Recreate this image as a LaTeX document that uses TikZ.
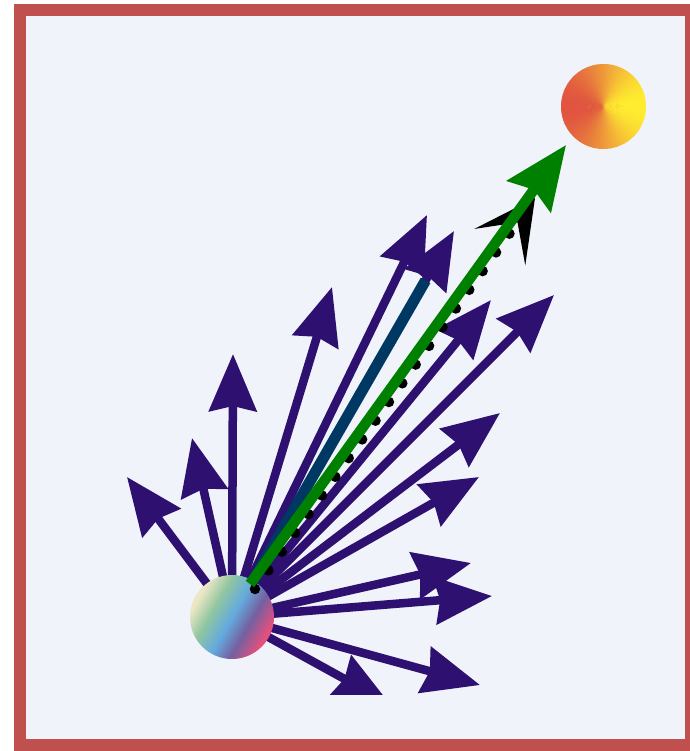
\documentclass[tikz,border=0pt]{standalone}
\usetikzlibrary{arrows.meta,calc}
\definecolor{framered}{RGB}{192,80,77}
\definecolor{bgblue}{RGB}{240,243,249}
\definecolor{vecpurple}{RGB}{46,16,112}
\definecolor{navyv}{RGB}{0,56,100}
\definecolor{greenv}{RGB}{0,128,0}
\definecolor{bA}{RGB}{236,230,196}
\definecolor{bB}{RGB}{144,198,160}
\definecolor{bC}{RGB}{100,170,222}
\definecolor{bD}{RGB}{116,96,160}
\definecolor{bE}{RGB}{228,80,124}
\definecolor{rdC}{RGB}{224,84,64}
\definecolor{orC}{RGB}{238,152,58}
\definecolor{yeC}{RGB}{255,236,48}
\pgfdeclarehorizontalshading{ballone}{100bp}{color(0bp)=(bA); color(27bp)=(bA); color(38bp)=(bB); color(50bp)=(bC); color(61bp)=(bD); color(73bp)=(bE); color(100bp)=(bE)}
\begin{document}
\begin{tikzpicture}[x=1pt,y=-1pt,
  parrow/.style={draw=vecpurple, line width=8.5pt, -{Stealth[length=57pt,width=47pt,inset=5pt]}},
  navyline/.style={draw=navyv, line width=11pt},
  dotarrow/.style={draw=black, line width=10.5pt, line cap=round, dash pattern=on 0pt off 23pt, -{Stealth[length=60pt,width=62pt,inset=30pt]}},
  greenarrow/.style={draw=greenv, line width=10.5pt, -{Stealth[length=63pt,width=53pt,inset=8pt]}},
  frame/.style={draw=framered, line width=12pt}]
\useasboundingbox (0,0) rectangle (689,751);
\fill[bgblue] (20,10) rectangle (691,745);

\coordinate (c1) at (232,617);
\coordinate (c2) at (603.5,106.5);
\coordinate (t1) at (127,477);
\coordinate (t2) at (192,438);
\coordinate (t3) at (233,354);
\coordinate (t4) at (332,287);
\coordinate (t5) at (427,215);
\coordinate (t6) at (454,231);
\coordinate (t7) at (491,300);
\coordinate (t8) at (554,295);
\coordinate (t9) at (500,413);
\coordinate (t10) at (479,477);
\coordinate (t11) at (471,563);
\coordinate (t12) at (492,596);
\coordinate (t13) at (390,704);
\coordinate (t14) at (480,685);

\begin{scope}
\clip (0,0) rectangle (689,694);
\foreach \t in {t1,t2,t3,t4,t5,t6,t7,t8,t9,t10,t11,t12,t13,t14}{
  \draw[parrow] (c1) -- (\t);
}
\end{scope}

\node[circle, minimum size=84pt, inner sep=0pt, shading=ballone, shading angle=-30] (ball1) at (c1) {};

\coordinate (n0) at ($(c1)!40pt!(t6)$);
\coordinate (n1) at ($(t6)!57pt!(c1)$);
\draw[navyline] (n0) -- (n1);

\coordinate (k0) at (255,589);
\coordinate (kt) at (535,198);
\draw[dotarrow] (k0) -- (kt);

\coordinate (g0) at (250,584);
\coordinate (gt) at (566,145);
\draw[greenarrow] (g0) -- (gt);

\fill[orC] (c2) circle[radius=41.5];
\foreach \a in {0,4,...,356}{
  \pgfmathsetmacro{\cc}{cos(\a+2)}
  \pgfmathsetmacro{\pr}{\cc<0 ? 100*(1+\cc) : 100*\cc}
  \ifdim \cc pt<0pt \def\mixc{orC!\pr!rdC}\else \def\mixc{yeC!\pr!orC}\fi
  \fill[\mixc] ($(c2)+(\a-1:1.5)$) -- ++(\a:41) arc[start angle=\a, end angle=\a+5, radius=42] -- cycle;
}

\draw[frame] (20,10) rectangle (691,745);
\end{tikzpicture}
\end{document}
